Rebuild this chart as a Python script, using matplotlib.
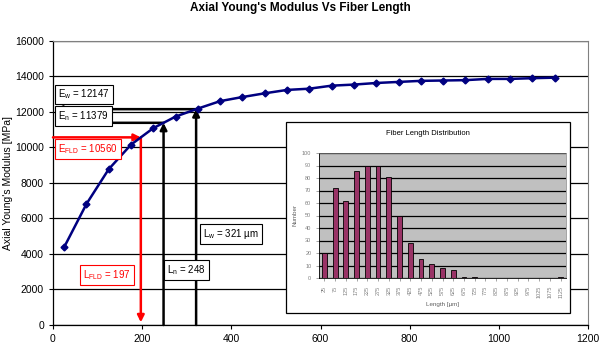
import matplotlib.pyplot as plt
from matplotlib.patches import Rectangle

plt.rcParams['font.family'] = ['Liberation Sans', 'DejaVu Sans']
plt.rcParams['mathtext.default'] = 'regular'

# fiber length classes (um) and modulus computed for each
length = [25, 75, 125, 175, 225, 275, 325, 375, 425, 475, 525, 575,
          625, 675, 725, 775, 825, 875, 925, 975, 1025, 1075, 1125]
modulus = [4380, 6810, 8770, 10150, 11080, 11730, 12180, 12600, 12830, 13040, 13230, 13300,
           13470, 13530, 13620, 13680, 13740, 13760, 13780, 13850, 13850, 13890, 13920]

# number of fibers in each length class
count = [20, 72, 62, 86, 90, 90, 81, 50, 28, 15, 11.5, 8,
         6.5, 1, 1, 0, 0, 0, 0, 0, 0, 0, 1]

# averages
L_fld, E_fld = 197, 10560
L_n, E_n = 248, 11379
L_w, E_w = 321, 12147

fig = plt.figure(figsize=(6, 3.5), dpi=100)
ax = fig.add_axes([53/600, 1-325/350, (588-53)/600, (325-40.7)/350])

ax.plot(length, modulus, color='#000080', lw=1.8, marker='D', ms=3.5, zorder=4)

ax.set_xlim(0, 1200)
ax.set_ylim(0, 16000)
ax.set_xticks(range(0, 1201, 200))
ax.set_yticks(range(0, 16001, 2000))
ax.yaxis.grid(True, color='black', lw=0.9)
ax.set_axisbelow(True)
ax.tick_params(labelsize=7.5, length=3, width=0.8, direction='out')
for side in ['top', 'right']:
    ax.spines[side].set_color('#808080')
ax.spines['left'].set_linewidth(0.9)
ax.spines['bottom'].set_linewidth(0.9)
fig.text(8/600, 1 - 183/350, "Axial Young's Modulus [MPa]", fontsize=7.5,
         rotation=90, ha='center', va='center')
fig.text(0.5, 1 - 8/350, "Axial Young's Modulus Vs Fiber Length",
         fontsize=8.5, fontweight='bold', ha='center', va='center')

# projection arrows for the three average lengths
def arrow(x0, y0, x1, y1, color):
    ax.annotate('', xy=(x1, y1), xytext=(x0, y0),
                arrowprops=dict(arrowstyle='-|>,head_length=0.4,head_width=0.2',
                                color=color, lw=1.8, shrinkA=0, shrinkB=0), zorder=3)

arrow(L_n, E_n, 5, E_n, 'black')
arrow(L_n, 0, L_n, E_n, 'black')
arrow(L_w, E_w, 5, E_w, 'black')
arrow(L_w, 0, L_w, E_w, 'black')
arrow(0, E_fld, L_fld, E_fld, 'red')
arrow(L_fld, E_fld, L_fld, 150, 'red')

box = dict(boxstyle='square,pad=0.3', fc='white', ec='black', lw=0.8)
rbox = dict(boxstyle='square,pad=0.3', fc='white', ec='red', lw=0.8)
ax.text(12, 12977, 'E$_{w}$ = %d' % E_w, fontsize=7, va='center', bbox=box, zorder=5)
ax.text(12, 11767, 'E$_{n}$ = %d' % E_n, fontsize=7, va='center', bbox=box, zorder=5)
ax.text(12, 9909, 'E$_{FLD}$ = %d' % E_fld, fontsize=7, va='center', color='red', bbox=rbox, zorder=5)
ax.text(68, 2815, 'L$_{FLD}$ = %d' % L_fld, fontsize=7, va='center', color='red', bbox=rbox, zorder=5)
ax.text(256, 3097, 'L$_{n}$ = %d' % L_n, fontsize=7, va='center', bbox=box, zorder=5)
ax.text(337, 5123, 'L$_{w}$ = %d µm' % L_w, fontsize=7, va='center', bbox=box, zorder=5)

# inset: fiber length distribution
fig.patches.append(Rectangle((286/600, 1-313/350), (570-286)/600, (313-122)/350,
                             transform=fig.transFigure, fc='white', ec='black', lw=0.9, zorder=2))
ins = fig.add_axes([319/600, 1-278/350, (566-319)/600, (278-153)/350], zorder=3)
ins.set_facecolor('#C0C0C0')
pos = range(len(length))
ins.bar(pos, count, width=0.45, color='#993366', edgecolor='black', lw=0.6, zorder=3)
ins.set_xlim(-0.5, len(length) - 0.5)
ins.set_ylim(0, 100)
ins.set_yticks(range(0, 101, 10))
ins.set_xticks(list(pos))
ins.set_xticklabels([str(v) for v in length], rotation=90)
ins.yaxis.grid(True, color='black', lw=0.9)
ins.set_axisbelow(True)
ins.tick_params(labelsize=4, length=2, width=0.5, colors='#808080', labelcolor='#808080')
for side in ['top', 'right']:
    ins.spines[side].set_color('#808080')
    ins.spines[side].set_linewidth(0.5)
for side in ['left', 'bottom']:
    ins.spines[side].set_linewidth(0.6)
fig.text(428/600, 1 - 134/350, 'Fiber Length Distribution', fontsize=5.5,
         ha='center', va='center', zorder=4)
ins.set_xlabel('Length [µm]', fontsize=4.5, color='#606060', labelpad=3)
ins.set_ylabel('Number', fontsize=4.5, color='#606060', labelpad=3)

fig.savefig('out.png', dpi=100)
